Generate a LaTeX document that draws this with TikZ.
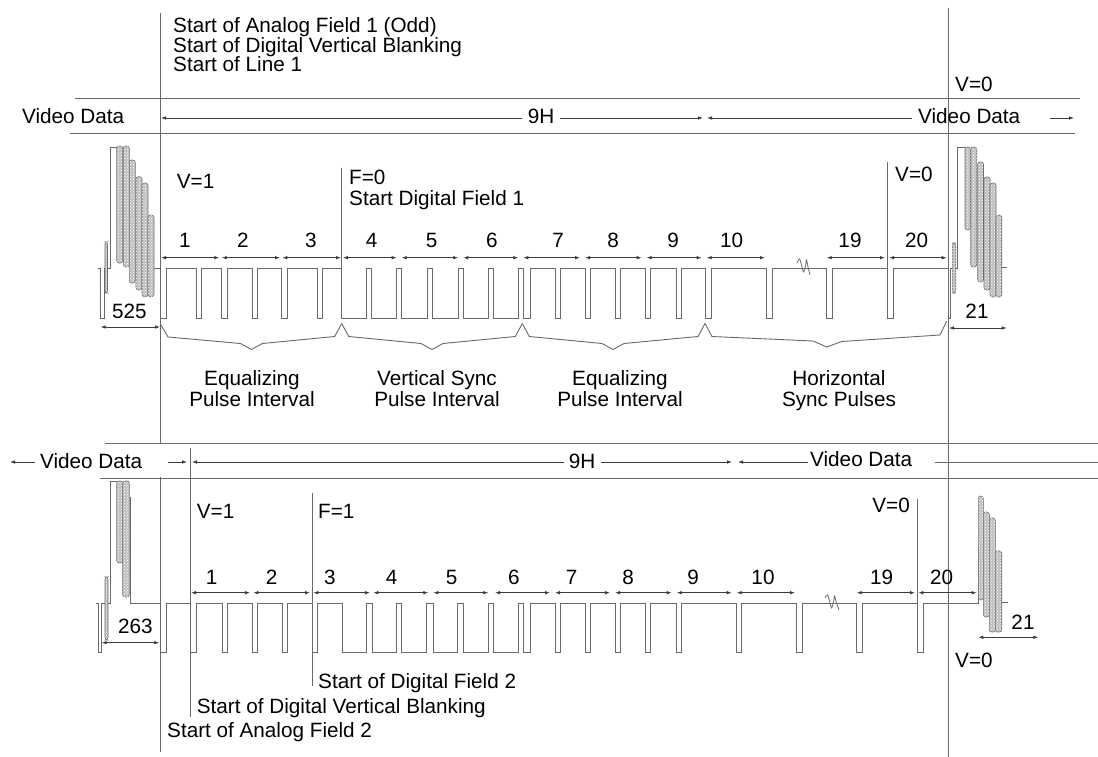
\documentclass[tikz,border=0pt]{standalone}
\usepackage{fontspec}
\setmainfont{Liberation Sans}
\usetikzlibrary{arrows.meta,patterns}
\definecolor{ln}{RGB}{105,105,105}
\definecolor{ar}{RGB}{60,60,60}
\begin{document}
\begin{tikzpicture}[x=1pt,y=-1pt,
  lbl/.style={inner sep=0pt,anchor=base west,font=\fontsize{20.7pt}{22pt}\selectfont},
  lblc/.style={lbl,anchor=base},
  lble/.style={lbl,anchor=base east},
  guide/.style={draw=ln,line width=0.9pt},
  wave/.style={draw=ln,line width=0.9pt},
  tipl/.style={ar,line width=0.8pt,-{Latex[length=5pt,width=3.6pt]}},
  dim/.style={ar,line width=0.8pt,{Latex[length=5pt,width=3.6pt]}-{Latex[length=5pt,width=3.6pt]}},
  bar/.style={draw=ln,line width=0.6pt,rounded corners=2.5pt,fill=gray!50,postaction={pattern=crosshatch dots,pattern color=white}},
  brace/.style={draw=ln,line width=0.9pt}]
\useasboundingbox (0,0) rectangle (1098,757);

% ---------- band lines ----------
\draw[guide] (75,98) -- (1080,98);
\draw[guide] (70,133) -- (1075,133);
\draw[guide] (105,443) -- (1098,443);
\draw[guide] (100,478) -- (1098,478);

% ---------- vertical guides ----------
\draw[guide] (160,13) -- (160,443);
\draw[guide] (160,477) -- (160,752);
\draw[guide] (948,8) -- (948,757);
\draw[guide] (190,448) -- (190,717);
\draw[guide] (341.7,168) -- (341.7,268);
\draw[guide] (887.3,162) -- (887.3,268);
\draw[guide] (312.3,493) -- (312.3,686);
\draw[guide] (917.3,499) -- (917.3,603);

% ---------- top texts ----------
\node[lbl] (t1) at (173,33) {Start of Analog Field 1 (Odd)};
\node[lbl] (t2) at (173,52.5) {Start of Digital Vertical Blanking};
\node[lbl] (t3) at (173,72) {Start of Line 1};
\node[lbl] (vd1) at (22,124) {Video Data};
\node[lblc] (h9a) at (541,124) {9H};
\node[lbl] (vd2) at (918,124) {Video Data};
\node[lbl] (v0a) at (955,92) {V=0};
\node[lbl] (v1a) at (176.7,188.5) {V=1};
\node[lbl] (f0) at (349,185) {F=0};
\node[lbl] (sdf1) at (349,205.5) {Start Digital Field 1};
\node[lbl] (v0b) at (895,182) {V=0};
\node[lbl] (n525) at (112,318) {525};
\node[lblc] (n21a) at (977,318) {21};

% top arrows of band
\draw[tipl] (522,118) -- (161,118);
\draw[tipl] (560,118) -- (703,118);
\draw[tipl] (912,118) -- (707,118);
\draw[tipl] (1050,118) -- (1074,118);

% ---------- top line-number arrows ----------
\foreach \a/\b/\c/\n in {161/219.3/185/1,221.7/280/243/2,282.3/341/311/3,343/396.7/371.7/4,401.7/458.3/431.7/5,463.3/518.3/492/6,523.3/580/558/7,585/641.7/613/8,646.7/701.7/673/9,706.7/765/731.7/10,826.7/885/850/19,889/946.7/916.7/20}{
  \draw[dim] (\a,257.7) -- (\b,257.7);
  \node[lblc] (tn\n) at (\c,247.5) {\n};
}

% ---------- top waveform ----------
\draw[wave] (98,268) -- (100.7,268) -- (100.7,318) -- (104,318) -- (104,268) -- (110.7,268) -- (110.7,147) -- (116.7,147);
\draw[wave] (154,268) -- (160.7,268)
  foreach \a/\b in {160.7/166.7,196.7/201.7,221.7/227.3,252.3/257.3,281.7/287.3,317.3/322.3}{ -- (\a,268) -- (\a,318) -- (\b,318) -- (\b,268) }
  -- (341.7,268) -- (341.7,318)
  foreach \a/\b in {366.7/371.7,396.7/401.7,427.3/432.3,458.3/463.3,488.3/493.3,518.3/523.3}{ -- (\a,318) -- (\a,268) -- (\b,268) -- (\b,318) }
  -- (530,318) -- (530,268)
  foreach \a/\b in {555/560,585/590,615/620,645/650,676.7/681.7,705/711.7,766.7/772.7,826.7/832.7,887.3/893.3}{ -- (\a,268) -- (\a,318) -- (\b,318) -- (\b,268) }
  -- (948.3,268) -- (948.3,318) -- (950.7,318) -- (950.7,268) -- (957.3,268) -- (957.3,147) -- (966,147);
\draw[wave] (1001.7,253) -- (1001.7,267) -- (1007,267);
% squiggle top
\draw[ln,line width=0.8pt] plot[smooth] coordinates {(797,263) (799.5,259) (801.5,265) (803.5,272) (805.5,266) (806.5,260) (808,267) (810,275)};

% top data bars
\draw[bar] (105,242) rectangle (107.5,293);
\draw[bar] (116.7,146) rectangle (122.7,263);
\draw[bar] (123.3,146) rectangle (129.3,267);
\draw[bar] (129.3,160) rectangle (135.3,283);
\draw[bar] (136,176.7) rectangle (142,290);
\draw[bar] (142,183) rectangle (148,296.7);
\draw[bar] (148,215) rectangle (154,296.7);

\draw[bar] (952.3,243) rectangle (955.7,293);
\draw[bar] (965,147) rectangle (970.5,230);
\draw[bar] (970.7,147) rectangle (976.7,267);
\draw[bar] (977.7,162) rectangle (983.5,282);
\draw[bar] (984,177) rectangle (990,290);
\draw[bar] (990,183) rectangle (996,297);
\draw[bar] (996,215) rectangle (1001.7,297);

% dimension arrows top
\draw[dim] (100.7,327) -- (160,327);
\draw[dim] (949,328) -- (1006.7,328);

% braces
\draw[brace] (161,325) -- (168,337) -- (240.4,343.5) -- (251.4,349.5) -- (262.4,343.5) -- (334.7,336.5) -- (341.7,323.5);
\draw[brace] (341.7,323.5) -- (348.7,336.5) -- (421,343.5) -- (432,349.5) -- (443,343.5) -- (515.3,336.5) -- (522.3,323.5);
\draw[brace] (522.3,323.5) -- (529.3,336.5) -- (602,343.5) -- (613,349.5) -- (624,343.5) -- (698,336.5) -- (705,323.5);
\draw[brace] (705,323.5) -- (712,336.5) -- (813,341) -- (826.7,347) -- (841.7,341.5) -- (940,335) -- (946.7,321);

\node[lblc] (bl1a) at (252,385) {Equalizing};
\node[lblc] (bl1b) at (252,406) {Pulse Interval};
\node[lblc] (bl2a) at (437,385) {Vertical Sync};
\node[lblc] (bl2b) at (437,406) {Pulse Interval};
\node[lblc] (bl3a) at (620,385) {Equalizing};
\node[lblc] (bl3b) at (620,406) {Pulse Interval};
\node[lblc] (bl4a) at (839,385) {Horizontal};
\node[lblc] (bl4b) at (839,406) {Sync Pulses};

% ---------- bottom band ----------
\node[lbl] (vd3) at (40,468) {Video Data};
\node[lblc] (h9b) at (582,468) {9H};
\node[lbl] (vd4) at (810,466) {Video Data};
\draw[tipl] (35,462) -- (10,462);
\draw[tipl] (168,462) -- (187,462);
\draw[tipl] (564,462) -- (192,462);
\draw[tipl] (601,462) -- (732,462);
\draw[tipl] (808,462) -- (738,462);
\draw[guide] (935,462) -- (1098,462);

% bottom texts
\node[lbl] (v1b) at (196.7,518) {V=1};
\node[lbl] (f1) at (318,518) {F=1};
\node[lble] (v0c) at (910,512) {V=0};
\node[lbl] (n263) at (118,633) {263};
\node[lblc] (n21b) at (1023,629.5) {21};
\node[lbl] (v0d) at (955,667) {V=0};
\node[lbl] (sdf2) at (318,688) {Start of Digital Field 2};
\node[lbl] (sdvb) at (196.7,713) {Start of Digital Vertical Blanking};
\node[lbl] (saf2) at (167,737) {Start of Analog Field 2};

% bottom line-number arrows
\foreach \a/\b/\c/\n in {191/250/211.7/1,253.3/310/271.7/2,313.3/370/330/3,373.3/428.3/391.7/4,433.3/488.3/451.7/5,495/550/514/6,555/610/571.7/7,615/671.7/628/8,676.7/731.7/693/9,736.7/795/763/10,856.7/915/881.7/19,918.3/976.7/941.7/20}{
  \draw[dim] (\a,592.7) -- (\b,592.7);
  \node[lblc] (bn\n) at (\c,584) {\n};
}

% bottom waveform
\draw[wave] (96,603) -- (98.5,603) -- (98.5,652) -- (101,652) -- (101,603) -- (110,603) -- (110,481) -- (116.7,481);
\draw[wave] (130,497) -- (130,603) -- (160.7,603)
  foreach \a/\b in {160.7/166,190/196.7,222.7/227.3,252.7/257.3,282.7/287.3,312.3/317.3}{ -- (\a,603) -- (\a,652) -- (\b,652) -- (\b,603) }
  -- (342.7,603) -- (342.7,652)
  foreach \a/\b in {366.7/372.3,396.7/401.7,426.7/433.3,457.3/463.3,488.3/493.3,518.3/523.3}{ -- (\a,652) -- (\a,603) -- (\b,603) -- (\b,652) }
  -- (530,652) -- (530,603)
  foreach \a/\b in {555/560,585/590,615/620,645/650,676/681,736/741.7,796.7/802.3,856.7/862.7,917.3/923.3}{ -- (\a,603) -- (\a,652) -- (\b,652) -- (\b,603) }
  -- (978.3,603) -- (978.3,548);
\draw[wave] (1001.7,588) -- (1001.7,602.3) -- (1008,602.3);
\draw[ln,line width=0.8pt] plot[smooth] coordinates {(825,598) (827.5,595) (829.5,601) (831.5,608) (833.5,602) (834.5,596) (836.5,603) (839,610)};

% bottom data bars
\draw[bar] (105,577) rectangle (108,640);
\draw[bar] (116.7,481) rectangle (122.7,563);
\draw[bar] (122.7,481) rectangle (129.3,597);
\draw[bar] (978.3,496) rectangle (983.3,600);
\draw[bar] (983.3,512) rectangle (989.3,617);
\draw[bar] (989.3,518) rectangle (995.3,632);
\draw[bar] (995.3,551) rectangle (1001.7,632);

% dimension arrows bottom
\draw[dim] (101.7,642.7) -- (159.3,642.7);
\draw[dim] (978.3,637.3) -- (1038.3,637.3);
\end{tikzpicture}
\end{document}
